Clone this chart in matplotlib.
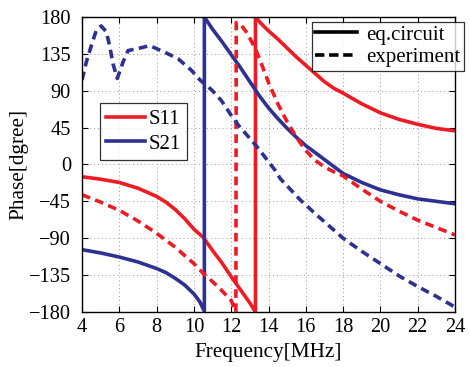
import numpy as np
import matplotlib
matplotlib.use("Agg")
import matplotlib.pyplot as plt
from matplotlib.lines import Line2D

plt.rcParams['font.family'] = ['Liberation Serif', 'DejaVu Serif']
plt.rcParams['mathtext.fontset'] = 'stix'

# S11, equivalent circuit (phase wraps at 13.3 MHz)
s11_eq_f = [4, 5, 6, 7, 8, 8.5, 9, 9.5, 10, 10.5, 11, 11.5, 12, 12.5, 13, 13.3,
            13.3, 13.6, 14, 14.5, 15, 15.5, 16, 16.5, 17, 17.5, 18, 19, 20, 21, 22, 23, 24]
s11_eq_p = [-15, -18, -22, -29, -39, -46, -55, -66, -79, -89, -105, -120, -137, -153, -169, -180,
            180, 172, 163, 153, 142, 131, 121, 111, 101, 93, 87, 74, 63, 55, 49, 44, 41]

# S11, measurement
s11_ex_f = [4, 5, 6, 7, 8, 9, 10, 10.5, 11, 11.5, 12, 12.25,
            12.27, 12.5, 12.8, 13, 13.3, 13.6, 14, 14.5, 15, 15.5, 16, 16.5, 17, 17.5, 18,
            19, 20, 21, 22, 23, 24]
s11_ex_p = [-37, -46, -56, -69, -84, -101, -121, -133, -143, -154, -166, -180,
            173, 171, 162, 154, 141, 124, 100, 74, 52, 33, 17, 5, -3, -9, -14,
            -30, -45, -57, -68, -77, -86]

# S21, equivalent circuit (phase wraps at 10.56 MHz)
s21_eq_f = [4, 5, 6, 7, 8, 8.5, 9, 9.5, 10, 10.3, 10.56,
            10.56, 11, 11.5, 12, 12.5, 13, 13.5, 14, 14.5, 15, 15.5, 16, 17, 18, 19, 20, 21, 22, 23, 24]
s21_eq_p = [-104, -108, -113, -119, -127, -132, -139, -147, -158, -167, -179,
            180, 165, 150, 134, 118, 101, 84, 69, 56, 44, 33, 23, 6, -11, -22, -31, -37, -42, -45, -48]

# S21, measurement
s21_ex_f = [4, 4.23, 4.5, 4.77, 5.03, 5.3, 5.48, 5.66, 5.89, 6.2, 6.47, 6.92, 7.63, 8.43,
            9.15, 9.86, 10.33, 10.95, 11.47, 11.94, 12.38, 13.37, 14.35, 14.62, 15.69,
            16.5, 17, 18, 19, 20, 21, 22, 23, 24]
s21_ex_p = [103, 125, 145, 164, 169, 162, 145, 123, 105, 125, 139, 141, 145, 137,
            129, 115, 103, 91, 78, 62, 48, 22, -7, -17, -43,
            -60, -70, -90, -106, -121, -136, -149, -161, -174]

red = '#ED1C24'
blue = '#2E3192'
lw = 2.6
dash = (2.4, 1.5)

fig = plt.figure(figsize=(4.7, 3.67), dpi=100)
ax = fig.add_axes([0.1745, 0.150, 0.7936, 0.8038])

l11, = ax.plot(s11_eq_f, s11_eq_p, color=red, lw=lw, label='S11')
l21, = ax.plot(s21_eq_f, s21_eq_p, color=blue, lw=lw, label='S21')
ax.plot(s11_ex_f, s11_ex_p, color=red, lw=lw, ls=(0, dash))
ax.plot(s21_ex_f, s21_ex_p, color=blue, lw=lw, ls=(0, dash))

ax.set_xlim(4, 24)
ax.set_ylim(-180, 180)
ax.set_xticks(np.arange(4, 25, 2))
ax.set_yticks(np.arange(-180, 181, 45))
ax.grid(True, ls=(0, (1, 3)), color='#999999', lw=0.7)
ax.tick_params(direction='in', top=True, right=True, length=4, width=0.8,
               labelsize=14.7)
ax.tick_params(axis='y', pad=8)
ax.tick_params(axis='x', pad=4)
for s in ax.spines.values():
    s.set_linewidth(1.0)

ax.set_xlabel('Frequency[MHz]', fontsize=15.3, labelpad=5)
ax.set_ylabel('Phase[dgree]', fontsize=15.3, labelpad=0)

leg1 = ax.legend(handles=[l11, l21], loc='upper left', bbox_to_anchor=(0.048, 0.708),
                 fontsize=15, frameon=True, fancybox=False, edgecolor='black',
                 handlelength=1.85, handletextpad=0.2, borderpad=0.3, labelspacing=0.25,
                 borderaxespad=0)
leg1.get_frame().set_linewidth(0.9)
ax.add_artist(leg1)

proxies = [Line2D([], [], color='black', lw=lw),
           Line2D([], [], color='black', lw=lw, ls=(0, (2.6, 1.3)))]
leg2 = ax.legend(proxies, ['eq.circuit', 'experiment'], loc='upper left',
                 bbox_to_anchor=(0.617, 0.983), fontsize=15, frameon=True, fancybox=False,
                 edgecolor='black', handlelength=2.0, handletextpad=0.45, borderpad=0.15,
                 labelspacing=0.15, borderaxespad=0)
leg2.get_frame().set_linewidth(0.9)

fig.savefig('out.png', dpi=100)
